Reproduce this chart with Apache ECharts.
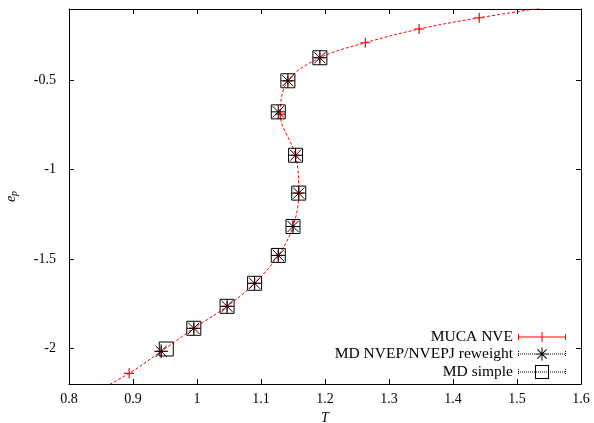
<!DOCTYPE html>
<html><head><meta charset="utf-8">
<script src="https://cdn.jsdelivr.net/npm/echarts@6/dist/echarts.min.js"></script>
<style>html,body{margin:0;padding:0;background:#fff}#c{width:594px;height:423px}</style>
</head><body><div id="c"></div>
<script>
// ---- data ----
const seriesNames = ['MUCA NVE', 'MD NVEP/NVEPJ reweight', 'MD simple'];
const mucaT = [0.829, 0.894, 0.944, 0.995, 1.047, 1.090, 1.127, 1.150, 1.159, 1.154, 1.130, 1.142, 1.192, 1.263, 1.347, 1.441, 1.62];
const mucaE = [-2.27, -2.14, -2.017, -1.888, -1.765, -1.636, -1.480, -1.318, -1.131, -0.919, -0.689, -0.502, -0.373, -0.289, -0.212, -0.149, -0.05];
const rewT = [0.944, 0.995, 1.047, 1.090, 1.127, 1.150, 1.159, 1.154, 1.127, 1.142, 1.192];
const rewE = [-2.017, -1.888, -1.765, -1.636, -1.480, -1.318, -1.131, -0.919, -0.676, -0.502, -0.373];
const simT = [0.952, 0.995, 1.047, 1.090, 1.127, 1.150, 1.159, 1.154, 1.127, 1.142, 1.192];
const simE = [-2.004, -1.888, -1.765, -1.636, -1.480, -1.318, -1.131, -0.919, -0.676, -0.502, -0.373];
const yTicks = [-2, -1.5, -1, -0.5];
const xMin = 0.8, xMax = 1.6, xStep = 0.1;
const yMin = -2.2, yMax = -0.1;

const zip = (a, b) => a.map((v, i) => [v, b[i]]);

// ---- legend icon paths (48 x 14 box) ----
function rect(x, y, w, h) { return `M${x},${y}H${x + w}V${y + h}H${x}Z`; }
function bbox() { return 'M0,0L0,0M48,14L48,14'; }
function dottedH(y) { let s = ''; for (let x = 0; x < 48; x += 2) s += rect(x, y, 1, 1); return s; }
function dottedV(x, y0, y1) { let s = ''; for (let y = y0; y < y1; y += 2) s += rect(x, y, 1, 1); return s; }
function diag(cx, cy, r, sgn) {
  const t = 0.5;
  const x1 = cx - r, y1 = cy - sgn * r, x2 = cx + r, y2 = cy + sgn * r;
  const ox = t * 0.7071 * sgn, oy = -t * 0.7071;
  return `M${x1 + ox},${y1 + oy}L${x2 + ox},${y2 + oy}L${x2 - ox},${y2 - oy}L${x1 - ox},${y1 - oy}Z`;
}
const iconMuca = 'path://' + bbox() + rect(0, 6.5, 48, 1) + rect(0, 4, 1, 6) + rect(47, 4, 1, 6) + rect(23.5, 2, 1, 10) + rect(19, 6.5, 10, 1);
const iconRew = 'path://' + bbox() + dottedH(6.5) + dottedV(0, 4, 10) + dottedV(47, 4, 10) +
  rect(23.5, 0.5, 1, 13) + rect(17.5, 6.5, 13, 1) + diag(24, 7, 4.6, 1) + diag(24, 7, 4.6, -1);
const iconSim = 'path://' + bbox() + dottedH(6.5) + dottedV(0, 4, 10) + dottedV(47, 4, 10) +
  rect(17, 0, 14, 1) + rect(17, 13, 14, 1) + rect(17, 0, 1, 14) + rect(30, 0, 1, 14);

const serif = '"Liberation Serif", "DejaVu Serif", serif';
const black = '#000';

function legendAt(name, icon, color, top) {
  return {
    right: 28, top: top, orient: 'vertical', align: 'right', padding: 0,
    itemWidth: 48, itemHeight: 14, selectedMode: false,
    textStyle: { fontFamily: serif, fontSize: 15.5, color: '#000' },
    data: [{ name: name, icon: icon, itemStyle: { color: color, borderWidth: 0, borderColor: 'transparent', opacity: 1 } }]
  };
}

const axisCommon = {
  type: 'value',
  axisLine: { show: true, onZero: false, lineStyle: { color: black, width: 1 } },
  axisTick: { show: true, inside: true, length: 5, lineStyle: { color: black, width: 1 } },
  splitLine: { show: false },
};

const option = {
  animation: false,
  backgroundColor: '#fff',
  grid: { left: 69, right: 13, top: 9, bottom: 39, containLabel: false, outerBoundsMode: 'none' },
  xAxis: [
    Object.assign({}, axisCommon, {
      position: 'bottom', min: xMin, max: xMax, interval: xStep,
      axisLabel: { margin: 8, fontFamily: serif, fontSize: 14, color: black },
      name: 'T', nameLocation: 'middle', nameGap: 19,
      nameTextStyle: { fontFamily: serif, fontSize: 14, fontStyle: 'italic', color: black }
    }),
    Object.assign({}, axisCommon, {
      position: 'top', min: xMin, max: xMax, interval: xStep,
      axisLabel: { show: false }
    })
  ],
  yAxis: [
    Object.assign({}, axisCommon, {
      position: 'left', min: yMin, max: yMax,
      axisTick: Object.assign({}, axisCommon.axisTick, { customValues: yTicks }),
      axisLabel: { customValues: yTicks, margin: 13, fontFamily: serif, fontSize: 14, color: black },
      name: '{e|e}{p|p}', nameLocation: 'middle', nameGap: 50, nameRotate: 90,
      nameTextStyle: {
        color: black,
        rich: {
          e: { fontFamily: serif, fontSize: 14, fontStyle: 'italic', color: black },
          p: { fontFamily: serif, fontSize: 10, fontStyle: 'italic', color: black, padding: [6, 0, 0, 0] }
        }
      }
    }),
    Object.assign({}, axisCommon, {
      position: 'right', min: yMin, max: yMax,
      axisTick: Object.assign({}, axisCommon.axisTick, { customValues: yTicks }),
      axisLabel: { show: false }
    })
  ],
  legend: [
    legendAt(seriesNames[0], iconMuca, '#ff0000', 329),
    legendAt(seriesNames[1], iconRew, '#000', 346),
    legendAt(seriesNames[2], iconSim, '#000', 364)
  ],
  series: [
    {
      name: seriesNames[0], type: 'line', xAxisIndex: 0, yAxisIndex: 0,
      data: zip(mucaT, mucaE), smooth: 0.35, clip: true, z: 2,
      symbol: 'path://M-1,0L1,0M0,-1L0,1', symbolSize: 10, showAllSymbol: true,
      lineStyle: { color: '#ff0000', width: 1, type: [3, 2] },
      itemStyle: { color: 'rgba(0,0,0,0)', borderColor: '#ff0000', borderWidth: 1.2 }
    },
    {
      name: seriesNames[1], type: 'scatter', xAxisIndex: 0, yAxisIndex: 0,
      data: zip(rewT, rewE), z: 3,
      symbol: 'path://M-1,0L1,0M0,-1L0,1M-0.8,-0.8L0.8,0.8M-0.8,0.8L0.8,-0.8', symbolSize: 14,
      itemStyle: { color: 'rgba(0,0,0,0)', borderColor: '#000', borderWidth: 1, opacity: 1 }
    },
    {
      name: seriesNames[2], type: 'scatter', xAxisIndex: 0, yAxisIndex: 0,
      data: zip(simT, simE), z: 4,
      symbol: 'rect', symbolSize: 14,
      itemStyle: { color: 'rgba(0,0,0,0)', borderColor: '#000', borderWidth: 1, opacity: 1 }
    }
  ]
};

const chart = echarts.init(document.getElementById('c'), null, { renderer: 'canvas' });
chart.setOption(option);
</script>
</body></html>
